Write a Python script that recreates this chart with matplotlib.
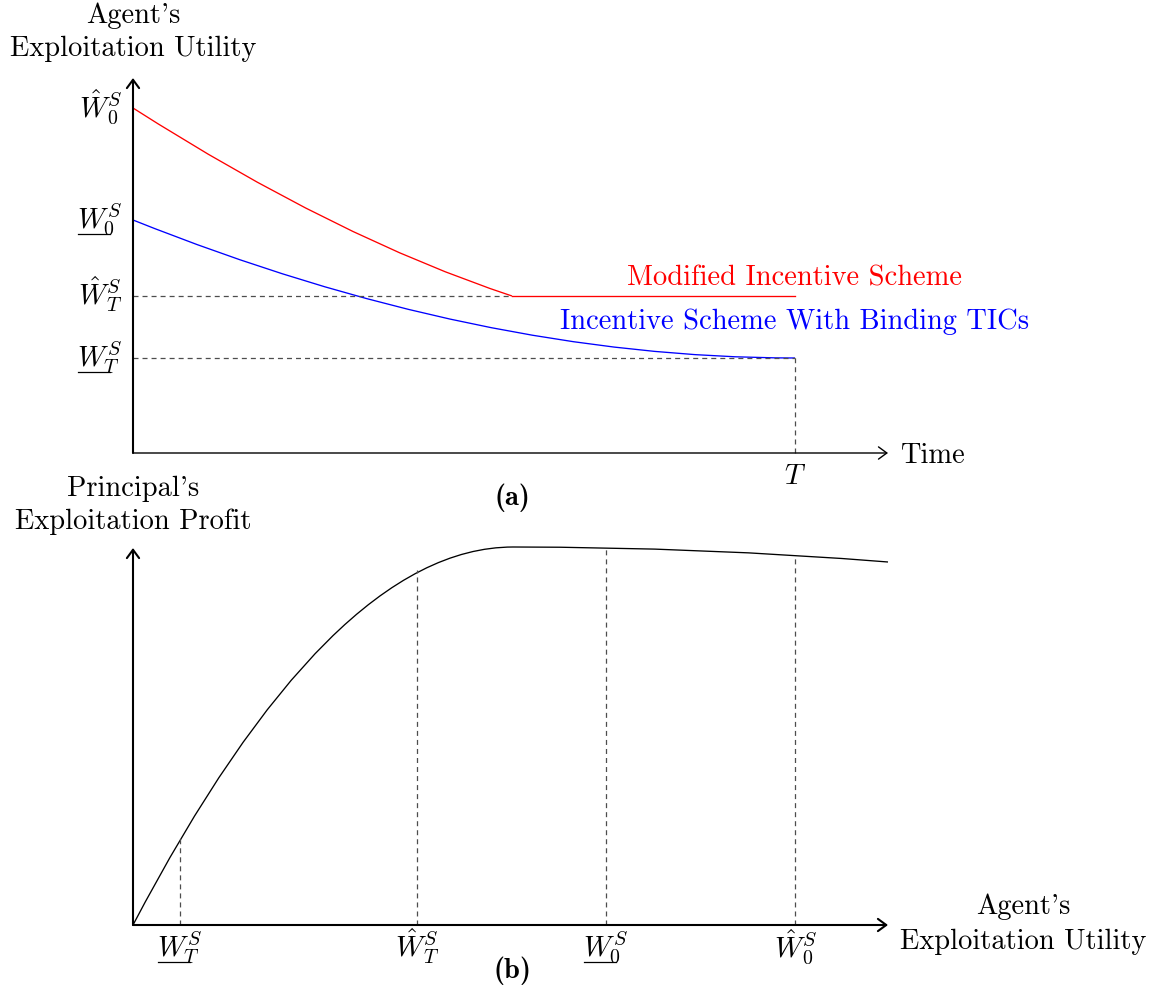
import matplotlib
matplotlib.use('Agg')
import matplotlib.pyplot as plt
from matplotlib.lines import Line2D
from matplotlib.path import Path
from matplotlib.patches import PathPatch

plt.rcParams['font.family'] = 'cmr10'
plt.rcParams['mathtext.fontset'] = 'cm'
plt.rcParams['font.size'] = 20.5
plt.rcParams['lines.scale_dashes'] = False

# panel (a): agent's exploitation utility over time (time in units of T)
T = 1.0
t_switch = 0.5725
W0_hat, W0_low = 3.45, 2.33
WT_hat, WT_low = 1.57, 0.95

# quadratic bezier pieces: start, control, end
red_t = [0.0, 0.307, t_switch]
red_u = [W0_hat, 2.15, WT_hat]
blue_t = [0.0, 0.52, T]
blue_u = [W0_low, 0.95, WT_low]

ylabels_a = [r'$\hat{W}_{0}^{S}$', r'$W_{0}^{S}$', r'$\hat{W}_{T}^{S}$', r'$W_{T}^{S}$']
ylevels_a = [W0_hat, W0_low, WT_hat, WT_low]
underlined_a = [False, True, False, True]

# panel (b): principal's exploitation profit vs agent's exploitation utility
# two quadratic pieces: rise to the peak, then slow decline
prof_w = [0.0, 1.98, 3.80, 5.70, 7.55]
prof_p = [0.0, 3.78, 3.78, 3.78, 3.63]

tick_w = [0.47, 2.84, 4.73, 6.62]
tick_p = [0.87, 3.55, 3.77, 3.70]
tick_lab = [r'$W_{T}^{S}$', r'$\hat{W}_{T}^{S}$', r'$W_{0}^{S}$', r'$\hat{W}_{0}^{S}$']
underlined_b = [True, False, True, False]

W, H = 1162, 992
fig = plt.figure(figsize=(W / 100, H / 100), dpi=100)

def px_box(x0, y0, x1, y1):
    return [x0 / W, 1 - y1 / H, (x1 - x0) / W, (y1 - y0) / H]

dash = dict(color='0.3', lw=0.9, dashes=(3.6, 2.9), clip_on=False)
to_underline = []

def arrow(ax, start, end, lw):
    ax.annotate('', xy=end, xytext=start,
                arrowprops=dict(arrowstyle='->,head_length=0.3,head_width=0.22',
                                lw=lw, color='k', shrinkA=0, shrinkB=0,
                                mutation_scale=20))

def bezier(ax, xs, ys, color):
    # xs/ys: start, then (control, end) pairs
    codes = [Path.MOVETO] + [Path.CURVE3] * (len(xs) - 1)
    path = Path(list(zip(xs, ys)), codes)
    ax.add_patch(PathPatch(path, facecolor='none', edgecolor=color, lw=0.95,
                           clip_on=False))

# ---------------- (a) ----------------
ax1 = fig.add_axes(px_box(133, 78, 888, 453))
ax1.set_xlim(0, 1.1405)
ax1.set_ylim(0, 3.75)
ax1.axis('off')

ax1.plot([0, t_switch], [WT_hat, WT_hat], **dash)
ax1.plot([0, T], [WT_low, WT_low], **dash)
ax1.plot([T, T], [0, WT_low], **dash)
bezier(ax1, blue_t, blue_u, '#0000ff')
bezier(ax1, red_t, red_u, '#ff0000')
ax1.plot([t_switch, T], [WT_hat, WT_hat], color='#ff0000', lw=0.95, clip_on=False)

arrow(ax1, (0, 0), (1.1405, 0), 1.0)
arrow(ax1, (0, 0), (0, 3.75), 1.5)

for lab, lev, und in zip(ylabels_a, ylevels_a, underlined_a):
    t = ax1.text(-0.0166, lev - 0.09, lab, ha='right', va='baseline')
    if und:
        to_underline.append((t, ax1, lev - 0.09))

ax1.text(1.1586, -0.10, 'Time', ha='left', va='baseline')
ax1.text(T, -0.31, r'$T$', ha='center', va='baseline')
ax1.text(t_switch, -0.52, '(a)', ha='center', va='baseline', family='cmb10')
ax1.text(0, 4.30, "Agent's", ha='center', va='baseline')
ax1.text(0, 3.97, 'Exploitation Utility', ha='center', va='baseline')
ax1.text(T, 1.67, 'Modified Incentive Scheme', ha='center', va='baseline',
         color='#ff0000')
ax1.text(T, 1.24, 'Incentive Scheme With Binding TICs', ha='center',
         va='baseline', color='#0000ff')

# ---------------- (b) ----------------
ax2 = fig.add_axes(px_box(133, 548, 888, 925))
ax2.set_xlim(0, 7.55)
ax2.set_ylim(0, 3.77)
ax2.axis('off')

for w, p in zip(tick_w, tick_p):
    ax2.plot([w, w], [0, p], **dash)
bezier(ax2, prof_w, prof_p, 'k')

arrow(ax2, (0, 0), (7.55, 0), 1.5)
arrow(ax2, (0, 0), (0, 3.77), 1.5)

for w, lab, und in zip(tick_w, tick_lab, underlined_b):
    t = ax2.text(w, -0.32, lab, ha='center', va='baseline')
    if und:
        to_underline.append((t, ax2, -0.32))

ax2.text(3.79, -0.53, '(b)', ha='center', va='baseline', family='cmb10')
ax2.text(0, 4.29, "Principal's", ha='center', va='baseline')
ax2.text(0, 3.96, 'Exploitation Profit', ha='center', va='baseline')
ax2.text(8.90, 0.11, "Agent's", ha='center', va='baseline')
ax2.text(8.90, -0.24, 'Exploitation Utility', ha='center', va='baseline')

# mathtext has no \underline, so put the rule under the W by hand
fig.canvas.draw()
rend = fig.canvas.get_renderer()
inv = fig.transFigure.inverted()
for txt, ax, base in to_underline:
    bb = txt.get_window_extent(rend)
    wW, _, _ = rend.get_text_width_height_descent(r'$W$', txt.get_fontproperties(),
                                                  ismath=True)
    y_disp = ax.transData.transform((0, base))[1] - 5
    (x0, y0), (x1, y1) = inv.transform([(bb.x0 + 1, y_disp), (bb.x0 + wW + 1, y_disp)])
    fig.add_artist(Line2D([x0, x1], [y0, y1], color='k', lw=0.9,
                          transform=fig.transFigure))

fig.savefig('out.png', dpi=100)
